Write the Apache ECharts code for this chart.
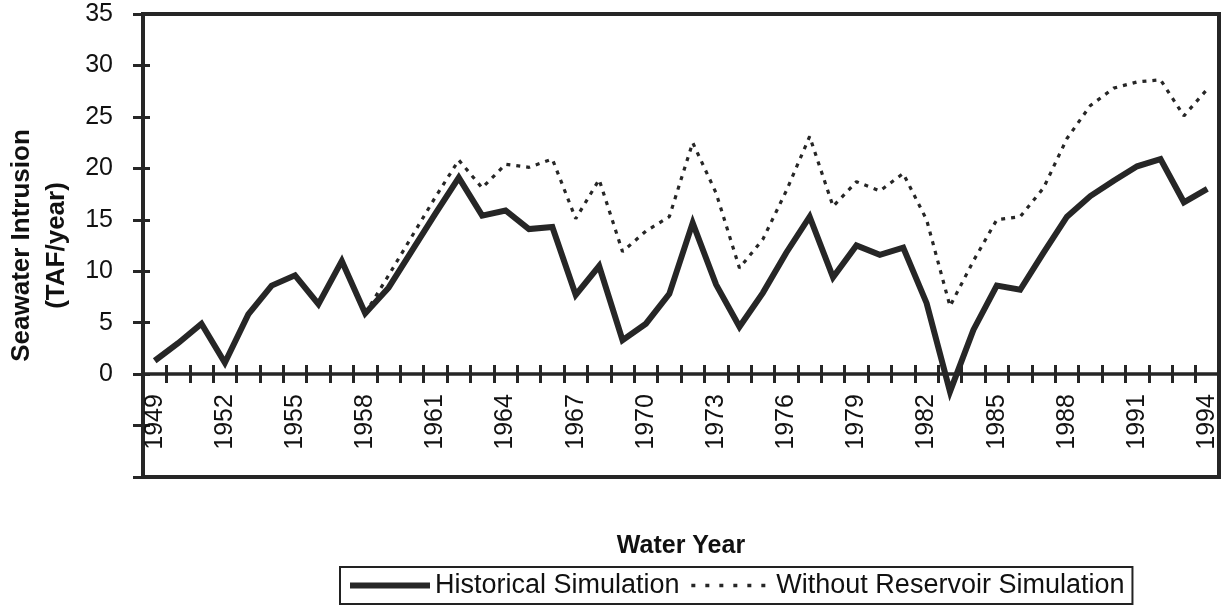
<!DOCTYPE html>
<html>
<head>
<meta charset="utf-8">
<script src="https://cdn.jsdelivr.net/npm/echarts@6/dist/echarts.min.js"></script>
<style>
  html, body { margin: 0; padding: 0; background: #fff; }
  #chart { width: 1223px; height: 611px; }
</style>
</head>
<body>
<div id="chart"></div>
<script>
// Water years 1949-1994
const years = [];
for (let y = 1949; y <= 1994; y++) years.push(String(y));

// Seawater intrusion, TAF/year
const historical = [
  1.3, 3.0, 4.9, 1.1, 5.8, 8.6, 9.6, 6.8, 11.0, 5.9,
  8.4, 12.0, 15.6, 19.1, 15.4, 15.9, 14.1, 14.3, 7.7, 10.5,
  3.3, 4.9, 7.8, 14.7, 8.7, 4.6, 7.9, 11.8, 15.3, 9.4,
  12.5, 11.6, 12.3, 6.9, -1.7, 4.3, 8.6, 8.2, 11.8, 15.3,
  17.3, 18.8, 20.2, 20.9, 16.7, 18.0
];

const withoutReservoir = [
  null, null, null, null, null, null, null, null, null, 5.9,
  9.6, 13.4, 17.2, 20.8, 18.1, 20.4, 20.1, 20.9, 15.1, 18.9,
  11.9, 13.9, 15.3, 22.5, 17.6, 10.3, 13.1, 17.8, 23.1, 16.3,
  18.7, 17.8, 19.5, 15.0, 6.6, 11.0, 15.0, 15.3, 18.1, 22.9,
  26.1, 27.8, 28.4, 28.6, 25.1, 27.7
];

const yTicks = { min: -10, max: 35, step: 5 };

const ink = '#262626';
const font = 'Arial, "Liberation Sans", Helvetica, sans-serif';

const gridTop = 14, gridBottom = 134, chartHeight = 611;
// distance from the bottom edge of the plot box up to the value 0
const plotH = chartHeight - gridTop - gridBottom;
const zeroLift = -plotH * (0 - yTicks.min) / (yTicks.max - yTicks.min);

const chart = echarts.init(document.getElementById('chart'), null, { renderer: 'canvas' });

chart.setOption({
  backgroundColor: '#fff',
  animation: false,
  grid: {
    left: 143, right: 4, top: gridTop, bottom: gridBottom,
    containLabel: false, outerBoundsMode: 'none',
    show: true, borderColor: ink, borderWidth: 4, backgroundColor: 'transparent'
  },
  legend: {
    left: 340, top: 567,
    orient: 'horizontal',
    itemWidth: 80, itemHeight: 16, itemGap: 10,
    padding: [5, 8, 5, 7],
    borderColor: '#222', borderWidth: 2,
    textStyle: { fontFamily: font, fontSize: 27, color: '#111' },
    itemStyle: { opacity: 0 },
    data: [
      { name: 'Historical Simulation', lineStyle: { width: 6 } },
      { name: 'Without Reservoir Simulation', lineStyle: { type: [4, 10], width: 3.5 } }
    ]
  },
  xAxis: [
    {
      type: 'category', data: years, boundaryGap: true, position: 'bottom',
      offset: zeroLift,
      name: 'Water Year', nameLocation: 'middle', nameGap: 159,
      nameTextStyle: { fontFamily: font, fontSize: 25, fontWeight: 'bold', color: '#111' },
      axisLine: { show: true, onZero: false, lineStyle: { color: ink, width: 3.5 } },
      axisTick: { show: true, inside: false, length: 9, interval: 0, lineStyle: { color: ink, width: 3 } },
      axisLabel: {
        interval: 2, rotate: 90, margin: 20,
        fontFamily: font, fontSize: 25, color: '#111'
      },
      splitLine: { show: false }
    },
    {
      type: 'category', data: years, boundaryGap: true, position: 'bottom',
      offset: zeroLift,
      axisLine: { show: false, onZero: false },
      axisTick: { show: true, inside: true, length: 9, interval: 0, lineStyle: { color: ink, width: 3 } },
      axisLabel: { show: false },
      splitLine: { show: false }
    }
  ],
  yAxis: [
    {
      type: 'value', min: yTicks.min, max: yTicks.max, interval: yTicks.step, position: 'left',
      name: 'Seawater Intrusion\n(TAF/year)', nameLocation: 'middle', nameGap: 66,
      nameTextStyle: { fontFamily: font, fontSize: 26, fontWeight: 'bold', color: '#111', lineHeight: 35 },
      axisLine: { show: true, lineStyle: { color: ink, width: 4 } },
      axisTick: { show: true, inside: false, length: 10, lineStyle: { color: ink, width: 3 } },
      axisLabel: {
        margin: 30, fontFamily: font, fontSize: 25, color: '#111',
        formatter: v => (v < 0 ? '' : String(v))
      },
      splitLine: { show: false }
    },
    {
      type: 'value', min: yTicks.min, max: yTicks.max, interval: yTicks.step, position: 'left',
      axisLine: { show: false },
      axisTick: { show: true, inside: true, length: 7, lineStyle: { color: ink, width: 3 } },
      axisLabel: { show: false },
      splitLine: { show: false }
    }
  ],
  series: [
    {
      name: 'Without Reservoir Simulation', type: 'line',
      xAxisIndex: 0, yAxisIndex: 0,
      data: withoutReservoir, symbol: 'none', connectNulls: false, z: 2,
      lineStyle: { color: ink, width: 3.2, type: [4, 6] },
      itemStyle: { color: ink }
    },
    {
      name: 'Historical Simulation', type: 'line',
      xAxisIndex: 0, yAxisIndex: 0,
      data: historical, symbol: 'none', z: 3,
      lineStyle: { color: ink, width: 6, join: 'miter' },
      itemStyle: { color: ink }
    }
  ]
});
</script>
</body>
</html>
